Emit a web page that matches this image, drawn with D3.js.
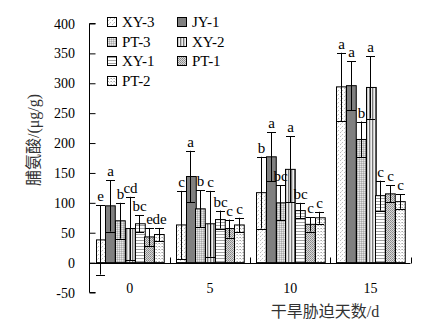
<!DOCTYPE html>
<html><head><meta charset="utf-8">
<script src="https://cdn.jsdelivr.net/npm/d3@7"></script>
<style>
html,body{margin:0;padding:0;background:#fff;}
svg{display:block;}
</style>
</head><body>
<svg id="chart" width="426" height="333"></svg>
<script>
const categories = ["0", "5", "10", "15"];
const seriesNames = ["XY-3", "JY-1", "PT-3", "XY-2", "XY-1", "PT-1", "PT-2"];
const XY3 = [38, 63, 117, 294];
const JY1 = [95, 144, 177, 296];
const PT3 = [70, 90, 100, 206];
const XY2 = [57, 65, 156, 293];
const XY1 = [65, 72, 87, 112];
const PT1 = [43, 57, 64, 115];
const PT2 = [47, 63, 75, 102];
const errXY3 = [58, 57, 60, 57];
const errJY1 = [43, 43, 41, 41];
const errPT3 = [30, 31, 29, 30];
const errXY2 = [53, 55, 55, 52];
const errXY1 = [14, 15, 13, 25];
const errPT1 = [15, 15, 12, 14];
const errPT2 = [11, 12, 10, 12];
const lblXY3 = ["e", "c", "b", "a"];
const lblJY1 = ["a", "a", "a", "a"];
const lblPT3 = ["b", "b", "bc", "b"];
const lblXY2 = ["cd", "c", "a", "a"];
const lblXY1 = ["bc", "bc", "bc", "c"];
const lblPT1 = ["e", "c", "c", "c"];
const lblPT2 = ["de", "c", "c", "c"];
const yTicks = [-50, 0, 50, 100, 150, 200, 250, 300, 350, 400];

const values = [XY3, JY1, PT3, XY2, XY1, PT1, PT2];
const errors = [errXY3, errJY1, errPT3, errXY2, errXY1, errPT1, errPT2];
const letters = [lblXY3, lblJY1, lblPT3, lblXY2, lblXY1, lblPT1, lblPT2];

const svg = d3.select("#chart");
const serif = "'Liberation Serif','Times New Roman',serif";
const cjk = "'Noto Sans CJK SC','Noto Sans CJK JP',sans-serif";

// patterns
const defs = svg.append("defs");
function pat(id, w, h, bg, cells) {
  const p = defs.append("pattern").attr("id", id).attr("patternUnits", "userSpaceOnUse")
    .attr("width", w).attr("height", h);
  p.append("rect").attr("width", w).attr("height", h).attr("fill", bg);
  cells.forEach(c => p.append("rect").attr("x", c[0]).attr("y", c[1]).attr("width", c[2]).attr("height", c[3]).attr("fill", c[4]));
}
pat("p0", 4, 4, "#fff", [[0,0,1,1,"#bbb"],[2,2,1,1,"#bbb"],[1,3,1,1,"#ddd"]]);
pat("p1", 2, 2, "#808080", []);
pat("p2", 2, 2, "#c4c4c4", [[0,0,1,1,"#e8e8e8"],[1,1,1,1,"#a8a8a8"]]);
pat("p3", 3, 3, "#f0f0f0", [[0,0,1,3,"#777"],[1,0,1,3,"#c8c8c8"]]);
pat("p4", 3, 3, "#fff", [[0,0,3,1,"#a0a0a0"]]);
pat("p5", 2, 2, "#d8d8d8", [[0,0,1,1,"#888"],[1,1,1,1,"#999"]]);
pat("p6", 3, 3, "#fff", [[0,0,1,1,"#aaa"],[1,1,1,1,"#ddd"],[2,0,1,1,"#ccc"]]);
const fills = seriesNames.map((s, i) => `url(#p${i})`);

const x0 = d3.scaleBand().domain(categories).range([89.5, 410.5]);
const x1 = d3.scaleBand().domain(seriesNames).range([6, x0.bandwidth() - 6]);
const y = d3.scaleLinear().domain([-50, 400]).range([292.5, 23.5]);

// bars
const data = [];
categories.forEach((c, ci) => seriesNames.forEach((s, si) => {
  data.push({c, s, si, v: values[si][ci], e: errors[si][ci], l: letters[si][ci]});
}));

const g = svg.append("g");
g.selectAll("rect.bar").data(data).enter().append("rect")
  .attr("class", "bar")
  .attr("x", d => Math.round(x0(d.c) + x1(d.s)) + 0.5)
  .attr("width", x1.bandwidth())
  .attr("y", d => y(d.v))
  .attr("height", d => y(0) - y(d.v))
  .attr("fill", d => fills[d.si])
  .attr("stroke", "#000").attr("stroke-width", 1);

// error bars
const eb = g.selectAll("g.eb").data(data).enter().append("g").attr("class", "eb");
const cx = d => Math.round(x0(d.c) + x1(d.s) + x1.bandwidth() / 2) + 0.5;
const capW = 4.5;
eb.append("line").attr("x1", cx).attr("x2", cx)
  .attr("y1", d => y(d.v + d.e)).attr("y2", d => y(d.v - d.e))
  .attr("stroke", "#000").attr("stroke-width", 1);
eb.append("line").attr("x1", d => cx(d) - capW).attr("x2", d => cx(d) + capW)
  .attr("y1", d => Math.round(y(d.v + d.e)) + 0.5).attr("y2", d => Math.round(y(d.v + d.e)) + 0.5)
  .attr("stroke", "#000");
eb.append("line").attr("x1", d => cx(d) - capW).attr("x2", d => cx(d) + capW)
  .attr("y1", d => Math.round(y(d.v - d.e)) + 0.5).attr("y2", d => Math.round(y(d.v - d.e)) + 0.5)
  .attr("stroke", "#000");

// letters
g.selectAll("text.lbl").data(data).enter().append("text")
  .attr("class", "lbl")
  .attr("x", cx).attr("y", d => y(d.v + d.e) - 4)
  .attr("text-anchor", "middle")
  .attr("font-family", serif).attr("font-size", 15).attr("fill", "#000")
  .text(d => d.l);

// y axis
const yAxis = d3.axisRight(y).tickValues(yTicks).tickSize(6).tickFormat("");
const ya = svg.append("g").attr("transform", "translate(89.5,0)").call(yAxis);
ya.select(".domain").attr("d", `M6,${y(400)}H0V${y(-50)}H6`).attr("stroke", "#000");
ya.selectAll(".tick line").attr("stroke", "#000");
svg.append("g").selectAll("text").data(yTicks).enter().append("text")
  .attr("x", 75).attr("y", d => y(d) + 5)
  .attr("text-anchor", "end")
  .attr("font-family", serif).attr("font-size", 14).attr("fill", "#000")
  .text(d => d);

// zero line with group ticks
const xa = svg.append("g").attr("transform", `translate(0,${Math.round(y(0)) + 0.5})`);
xa.append("line").attr("x1", 89.5).attr("x2", 410.5).attr("y1", 0).attr("y2", 0).attr("stroke", "#000");
xa.selectAll("line.t").data(categories).enter().append("line")
  .attr("class", "t")
  .attr("x1", d => Math.round(x0(d) + x0.bandwidth()) + 0.5)
  .attr("x2", d => Math.round(x0(d) + x0.bandwidth()) + 0.5)
  .attr("y1", 0).attr("y2", -6).attr("stroke", "#000");

svg.append("g").selectAll("text").data(categories).enter().append("text")
  .attr("x", d => x0(d) + x0.bandwidth() / 2).attr("y", 293)
  .attr("text-anchor", "middle")
  .attr("font-family", serif).attr("font-size", 14).attr("fill", "#000")
  .text(d => d);

// axis titles
const xt = svg.append("text").attr("x", 325).attr("y", 317).attr("text-anchor", "middle")
  .attr("font-size", 16).attr("fill", "#333");
xt.append("tspan").attr("font-family", cjk).text("干旱胁迫天数");
xt.append("tspan").attr("font-family", serif).text("/d");

const yt = svg.append("text").attr("transform", "translate(39,140) rotate(-90)")
  .attr("text-anchor", "middle").attr("font-size", 16).attr("fill", "#333");
yt.append("tspan").attr("font-family", cjk).text("脯氨酸");
yt.append("tspan").attr("font-family", serif).text("/(μg/g)");

// legend
const leg = svg.append("g");
const lx = [107, 177], ly = [17, 37, 56, 76];
seriesNames.forEach((s, i) => {
  const col = i % 2, row = Math.floor(i / 2);
  leg.append("rect").attr("x", lx[col] + 0.5).attr("y", ly[row] + 0.5)
    .attr("width", 9).attr("height", 9)
    .attr("fill", fills[i]).attr("stroke", "#000");
  leg.append("text").attr("x", lx[col] + 15).attr("y", ly[row] + 9.5)
    .attr("font-family", serif).attr("font-size", 15).attr("fill", "#000")
    .text(s);
});
</script>
</body></html>
